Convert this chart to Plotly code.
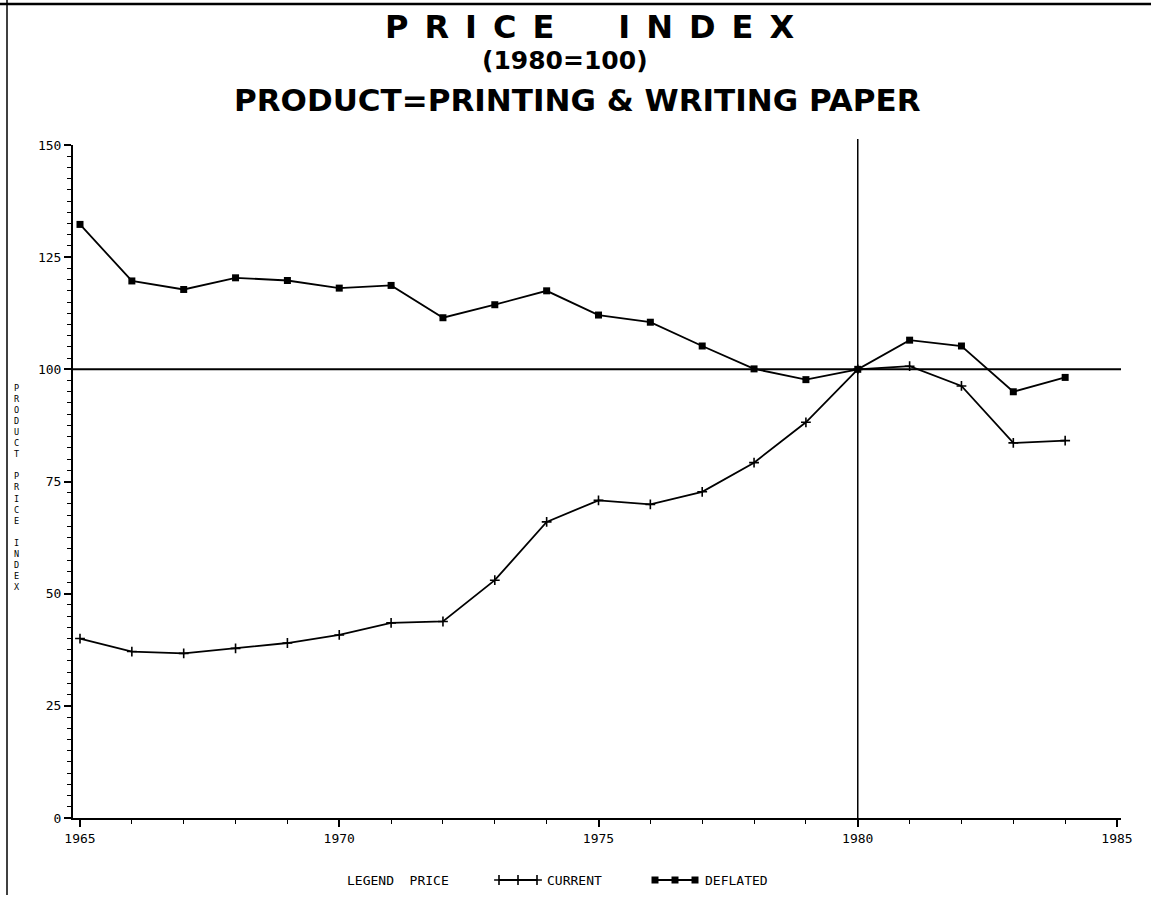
import plotly.graph_objects as go

# ---- data -------------------------------------------------------------
years = list(range(1965, 1985))
current = [40.0, 37.1, 36.7, 37.8, 39.0, 40.8, 43.5, 43.8, 53.0, 66.0,
           70.8, 69.9, 72.7, 79.2, 88.2, 100.0, 100.7, 96.3, 83.6, 84.1]
deflated = [132.3, 119.7, 117.8, 120.4, 119.8, 118.1, 118.7, 111.5, 114.4, 117.5,
            112.1, 110.5, 105.2, 100.1, 97.7, 100.0, 106.5, 105.2, 95.0, 98.2]
x_ticks = [1965, 1970, 1975, 1980, 1985]
y_ticks = [0, 25, 50, 75, 100, 125, 150]
base_year = 1980
base_index = 100

title_main = "PRICE INDEX"
title_base = "(1980=100)"
title_product = "PRODUCT=PRINTING & WRITING PAPER"
y_label = "PRODUCT PRICE INDEX"
legend_title = "LEGEND\u00a0\u00a0PRICE"
series_names = ["CURRENT", "DEFLATED"]

# ---- page geometry (pixels) --------------------------------------------
W, H = 1151, 905
PL, PR, PT, PB = 73, 1121, 145, 818          # plot area edges
X0, X1 = 1964.865, 1985.077                  # x range
Y0, Y1 = 0, 150


def fx(px):
    return px / W


def fy(py):
    return 1 - py / H


MONO = "DejaVu Sans Mono"
SANS = "DejaVu Sans"
INK = "black"
CLEAR = "rgba(0,0,0,0)"
LINE_W = 1.8

cross_marker = dict(symbol="cross-thin", size=7, line=dict(color=INK, width=1.6))
square_marker = dict(symbol="square", size=7, color=INK)

fig = go.Figure()

# data lines
fig.add_trace(go.Scatter(
    x=years, y=current, mode="lines+markers", name=series_names[0],
    line=dict(color=INK, width=LINE_W), marker=cross_marker,
    showlegend=False, xaxis="x", yaxis="y"))
fig.add_trace(go.Scatter(
    x=years, y=deflated, mode="lines+markers", name=series_names[1],
    line=dict(color=INK, width=LINE_W), marker=square_marker,
    showlegend=False, xaxis="x", yaxis="y"))

# legend keys drawn on an overlay axis measured in page pixels
key_y = 880
key_current = [499, 518, 537]
key_deflated = [655, 675, 695]
fig.add_trace(go.Scatter(
    x=key_current, y=[key_y] * 3, mode="lines+markers",
    line=dict(color=INK, width=LINE_W), marker=cross_marker,
    showlegend=False, hoverinfo="skip", xaxis="x2", yaxis="y2"))
fig.add_trace(go.Scatter(
    x=key_deflated, y=[key_y] * 3, mode="lines+markers",
    line=dict(color=INK, width=LINE_W), marker=square_marker,
    showlegend=False, hoverinfo="skip", xaxis="x2", yaxis="y2"))

tick_font = dict(family=MONO, size=13, color=INK)

fig.update_layout(
    width=W, height=H, autosize=False,
    margin=dict(l=0, r=0, t=0, b=0, autoexpand=False),
    paper_bgcolor="white", plot_bgcolor=CLEAR,
    xaxis=dict(
        domain=[fx(PL), fx(PR)], range=[X0, X1], anchor="y",
        tickmode="array", tickvals=x_ticks, ticktext=[str(v) for v in x_ticks],
        ticks="outside", ticklen=7, tickwidth=1.5, tickcolor=INK,
        minor=dict(tickmode="linear", tick0=1965, dtick=1, ticks="outside",
                   ticklen=4, tickwidth=1, tickcolor=INK),
        showline=True, linewidth=2, linecolor=INK,
        showgrid=False, zeroline=False, tickfont=tick_font),
    yaxis=dict(
        domain=[fy(PB), fy(PT)], range=[Y0, Y1], anchor="x",
        tickmode="array", tickvals=y_ticks, ticktext=[str(v) for v in y_ticks],
        ticks="outside", ticklen=7, tickwidth=1.5, tickcolor=INK,
        minor=dict(tickmode="linear", tick0=0, dtick=2.5, ticks="outside",
                   ticklen=4, tickwidth=1, tickcolor=INK),
        showline=True, linewidth=2, linecolor=INK,
        showgrid=False, zeroline=False, tickfont=tick_font),
    xaxis2=dict(domain=[0, 1], range=[0, W], visible=False, fixedrange=True,
                anchor="y2"),
    yaxis2=dict(domain=[0, 1], range=[H, 0], visible=False, fixedrange=True,
                anchor="x2"),
)

shapes = [
    # base-index reference line
    dict(type="line", xref="x", yref="y", x0=X0, x1=X1,
         y0=base_index, y1=base_index, line=dict(color=INK, width=2)),
    # base-year reference line, running a little above the top tick
    dict(type="line", xref="x", yref="paper", x0=base_year, x1=base_year,
         y0=fy(PB), y1=fy(139), line=dict(color=INK, width=1.5)),
    # page frame
    dict(type="line", xref="paper", yref="paper", x0=0, x1=1,
         y0=fy(4), y1=fy(4), line=dict(color=INK, width=2.5)),
    dict(type="line", xref="paper", yref="paper", x0=fx(7), x1=fx(7),
         y0=fy(0), y1=fy(895), line=dict(color=INK, width=1.5)),
]
fig.update_layout(shapes=shapes)


def page_text(text, px, py, font, xanchor="center"):
    return dict(text=text, x=fx(px), y=fy(py), xref="paper", yref="paper",
                xanchor=xanchor, yanchor="middle", showarrow=False, font=font)


annotations = []
# titles
spaced = "\u2002\u2002\u2002\u2002".join("\u2002".join(w) for w in title_main.split())
annotations.append(page_text(f"<b>{spaced}</b>", 589, 27,
                             dict(family=SANS, size=32, color=INK)))
annotations.append(page_text(f"<b>{title_base}</b>", 565, 60,
                             dict(family=SANS, size=25, color=INK)))
annotations.append(page_text(f"<b>{title_product}</b>", 577, 100,
                             dict(family=SANS, size=31, color=INK)))

# vertical axis label, one upright letter per line
stacked = "<br>".join(ch if ch != " " else "\u00a0" for ch in y_label)
annotations.append(page_text(stacked, 17, 487,
                             dict(family=MONO, size=8.5, color=INK)))

# legend texts
legend_font = dict(family=MONO, size=13, color=INK)
annotations.append(page_text(legend_title, 345, key_y, legend_font, "left"))
annotations.append(page_text(series_names[0], 545, key_y, legend_font, "left"))
annotations.append(page_text(series_names[1], 703, key_y, legend_font, "left"))
fig.update_layout(annotations=annotations)

fig.write_html("out.html")
